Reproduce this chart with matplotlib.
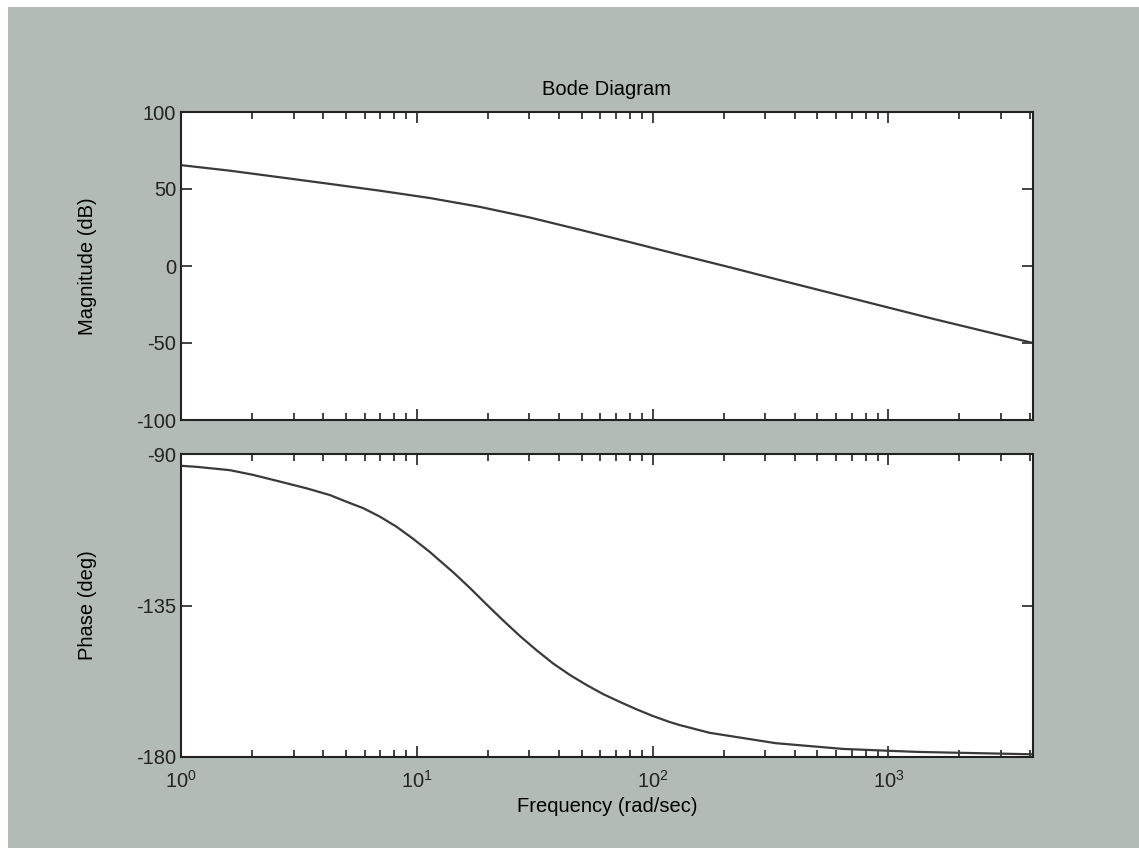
import matplotlib
matplotlib.use("Agg")
import matplotlib.pyplot as plt
from matplotlib.patches import Rectangle
from matplotlib.ticker import LogLocator, NullFormatter

plt.rcParams["font.family"] = ["Liberation Sans", "DejaVu Sans"]
plt.rcParams["mathtext.fontset"] = "custom"
plt.rcParams["mathtext.rm"] = "Liberation Sans"
plt.rcParams["axes.unicode_minus"] = False

# values
mag_freq = [1, 1.61, 2.63, 4.28, 6.97, 11.4, 18.5, 30.1, 49, 80, 130, 212,
            345, 1000, 1536, 4100]
mag_db = [65.5, 61.9, 57.6, 53.3, 48.9, 44.1, 38.4, 31.5, 23.6, 15.5, 7.3,
          -0.8, -9.1, -27, -34.2, -50]

phase_freq = [1, 1.16, 1.61, 2.02, 2.63, 3.41, 4.28, 5.04, 5.93, 6.97, 8.2,
              9.65, 11.4, 12.1, 14.3, 16.8, 19.7, 23.2, 27.3, 32.2, 37.8,
              44.5, 52.4, 61.6, 72.4, 85.2, 100, 118, 130, 174, 333, 641,
              1040, 1350, 4100]
phase_deg = [-93.5, -93.8, -94.8, -96.2, -98.2, -100.2, -102.2, -104.2,
             -106.1, -108.6, -111.6, -115.2, -119.2, -120.8, -125.2, -129.8,
             -134.6, -139.4, -144, -148.3, -152.2, -155.6, -158.6, -161.3,
             -163.6, -165.8, -167.8, -169.6, -170.5, -172.8, -175.9, -177.6,
             -178.2, -178.5, -179.2]

mag_ticks = [-100, -50, 0, 50, 100]
phase_ticks = [-180, -135, -90]

W, H = 1139, 848
fig = plt.figure(figsize=(W / 100, H / 100), dpi=100, facecolor="white")
fig.patches.append(Rectangle((8 / W, 0), 1, 1 - 7 / H, transform=fig.transFigure,
                             facecolor="#b3bbb6", edgecolor="none", zorder=-10))

left, right = 181 / W, 1033 / W
ax1 = fig.add_axes([left, 1 - 420 / H, right - left, (420 - 112) / H])
ax2 = fig.add_axes([left, 1 - 757 / H, right - left, (757 - 454) / H], sharex=ax1)

fs = 14.5
line_col = "#3a3a3a"

for ax in (ax1, ax2):
    ax.set_xscale("log")
    ax.set_facecolor("white")
    ax.tick_params(which="both", direction="in", top=True, right=True,
                   labelsize=fs, colors="#222222", width=1.2)
    ax.tick_params(which="major", length=8)
    ax.tick_params(which="minor", length=5)
    ax.xaxis.set_minor_locator(LogLocator(base=10, subs=range(2, 10), numticks=20))
    for s in ax.spines.values():
        s.set_linewidth(1.5)
        s.set_color("#222222")

ax1.plot(mag_freq, mag_db, color=line_col, lw=1.6)
ax1.set_ylim(-100, 100)
ax1.set_yticks(mag_ticks)
ax1.set_ylabel("Magnitude (dB)", fontsize=fs)
ax1.yaxis.set_label_coords(-0.099, 0.5)
ax1.tick_params(labelbottom=False)
ax1.set_title("Bode Diagram", fontsize=fs, pad=12)

ax2.plot(phase_freq, phase_deg, color=line_col, lw=1.6)
ax2.set_ylim(-180, -90)
ax2.set_yticks(phase_ticks)
ax2.set_xlim(1, 4100)
ax2.xaxis.set_minor_formatter(NullFormatter())
ax2.tick_params(axis="x", which="major", pad=9)
ax2.set_ylabel("Phase (deg)", fontsize=fs)
ax2.yaxis.set_label_coords(-0.099, 0.5)
ax2.set_xlabel("Frequency (rad/sec)", fontsize=fs, labelpad=4)

fig.savefig("out.png", dpi=100, facecolor=fig.get_facecolor())
